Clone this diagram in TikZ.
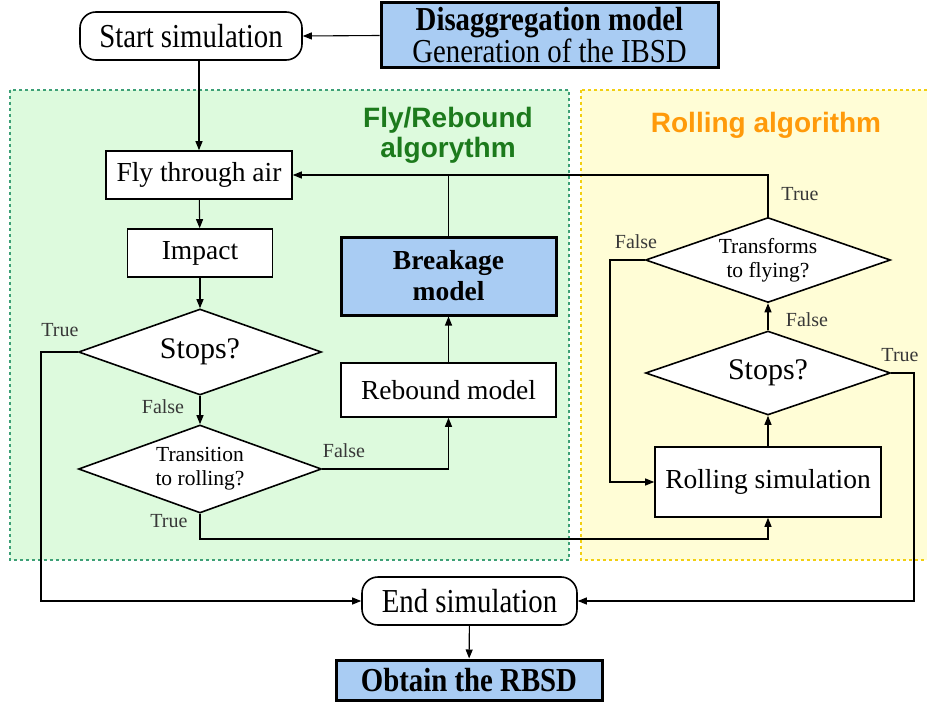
\documentclass[tikz,border=0pt]{standalone}
\usepackage{fontspec}
\setmainfont{Liberation Serif}
\newfontfamily\condfont[FakeStretch=0.86]{Liberation Serif}
\newfontfamily\titlefont{Liberation Sans}
\usetikzlibrary{shapes.geometric,arrows.meta}
\definecolor{blueF}{HTML}{A9CCF3}
\definecolor{greenF}{HTML}{DDFADD}
\definecolor{greenB}{HTML}{3DA076}
\definecolor{yellowF}{HTML}{FFFDD6}
\definecolor{yellowB}{HTML}{F2CF10}
\definecolor{greenT}{HTML}{1C7A1C}
\definecolor{orangeT}{HTML}{FF9A0A}
\definecolor{labc}{HTML}{383838}
\tikzset{
  nodefont/.style={font=\fontsize{27.5}{31}\selectfont},
  stopfont/.style={font=\fontsize{30}{32}\selectfont},
  nodefontb/.style={font=\bfseries\fontsize{27.5}{31}\selectfont},
  condf/.style={font=\condfont\fontsize{33.5}{30}\selectfont},
  condfb/.style={font=\condfont\bfseries\fontsize{33.5}{30}\selectfont},
  box/.style={draw, line width=1.6pt, fill=white, inner sep=0pt, nodefont},
  term/.style={box, rounded corners=16pt, condf},
  bluebox/.style={draw, line width=3pt, fill=blueF, inner sep=0pt, align=center},
  dia/.style={draw, diamond, line width=1.6pt, fill=white, inner sep=0pt},
  diatext/.style={font=\fontsize{21.5}{24}\selectfont, align=center},
  conn/.style={line width=1.1pt, -{Triangle[length=9pt,width=7pt]}},
  plain/.style={line width=1.1pt},
  lab/.style={font=\fontsize{20}{22}\selectfont, text=labc, inner sep=0pt},
  region/.style={line width=1.6pt, dash pattern=on 3pt off 3pt},
  ttl/.style={font=\titlefont\bfseries\fontsize{28}{30}\selectfont, align=center, inner sep=0pt}
}
\begin{document}
\begin{tikzpicture}[x=1pt,y=-1pt]
\useasboundingbox (0,0) rectangle (927,706);
% regions
\draw[region, draw=greenB, fill=greenF] (10,90) rectangle (569,560);
\draw[region, draw=yellowB, fill=yellowF] (581,90) rectangle (935,560);
\node[ttl, text=greenT] (tfly) at (448,135) {Fly/Rebound\\algorythm};
\node[ttl, text=orangeT] (troll) at (766,125) {Rolling algorithm};
% top
\node[term, minimum width=222, minimum height=48] (start) at (191,36) {Start simulation};
\node[bluebox, minimum width=337, minimum height=65, condf] (dis) at (549.5,35.5) {{\bfseries Disaggregation model}\\Generation of the IBSD};
% fly column
\node[box, minimum width=186, minimum height=48] (fly) at (199,175) {Fly through air};
\node[box, minimum width=145, minimum height=48] (impact) at (200,253) {Impact};
\node[dia, minimum width=243, minimum height=86, label={[stopfont]center:Stops?}] (stops) at (200,352) {};
\node[dia, minimum width=243, minimum height=88, label={[diatext]center:Transition\\to rolling?}] (trans) at (200,469) {};
\node[box, minimum width=215, minimum height=54] (rebound) at (448.5,390) {Rebound model};
\node[bluebox, minimum width=215, minimum height=78, nodefontb] (breakage) at (448.5,276) {Breakage\\model};
% rolling column
\node[dia, minimum width=245, minimum height=85, label={[diatext]center:Transforms\\to flying?}] (transf) at (768,260) {};
\node[dia, minimum width=245, minimum height=84, label={[stopfont]center:Stops?}] (stops2) at (768,373) {};
\node[box, minimum width=226, minimum height=70] (rolling) at (768,482) {Rolling simulation};
% bottom
\node[term, minimum width=215, minimum height=48] (endsim) at (469.5,601) {End simulation};
\node[bluebox, minimum width=266, minimum height=40, condfb] (obtain) at (469,680) {Obtain the RBSD};
% helper coordinates
\coordinate (lc) at (41,0);
\coordinate (tb) at (0,539);
\coordinate (lf) at (610,0);
\coordinate (rc) at (914,0);
% connectors
\draw[conn] (dis.west) -- (start.east);
\draw[conn] (fly.north |- start.south) -- (fly.north);
\draw[conn] (fly) -- (impact);
\draw[conn] (impact) -- (stops);
\draw[conn] (stops) -- (trans);
\draw[conn] (stops.west) -| (lc |- endsim.west) -- (endsim.west);
\draw[conn] (trans.east) -| (rebound.south);
\draw[conn] (trans.south) -- (trans.south |- tb) -| (rolling.south);
\draw[conn] (rebound) -- (breakage);
\draw[conn] (breakage.north) |- (fly.east);
\draw[plain] (transf.north) |- (breakage.north |- fly.east);
\draw[conn] (transf.west) -- (transf.west -| lf) |- (rolling.west);
\draw[conn] (stops2) -- (transf);
\draw[conn] (rolling) -- (stops2);
\draw[conn] (stops2.east) -- (stops2.east -| rc) |- (endsim.east);
\draw[conn] (endsim) -- (obtain);
% labels
\node[lab] (l1) at (60,330) {True};
\node[lab] (l2) at (163,407) {False};
\node[lab] (l3) at (344,451) {False};
\node[lab] (l4) at (169,521) {True};
\node[lab] (l5) at (800,194) {True};
\node[lab] (l6) at (636,242) {False};
\node[lab] (l7) at (807,320) {False};
\node[lab] (l8) at (900,355) {True};
\end{tikzpicture}
\end{document}
